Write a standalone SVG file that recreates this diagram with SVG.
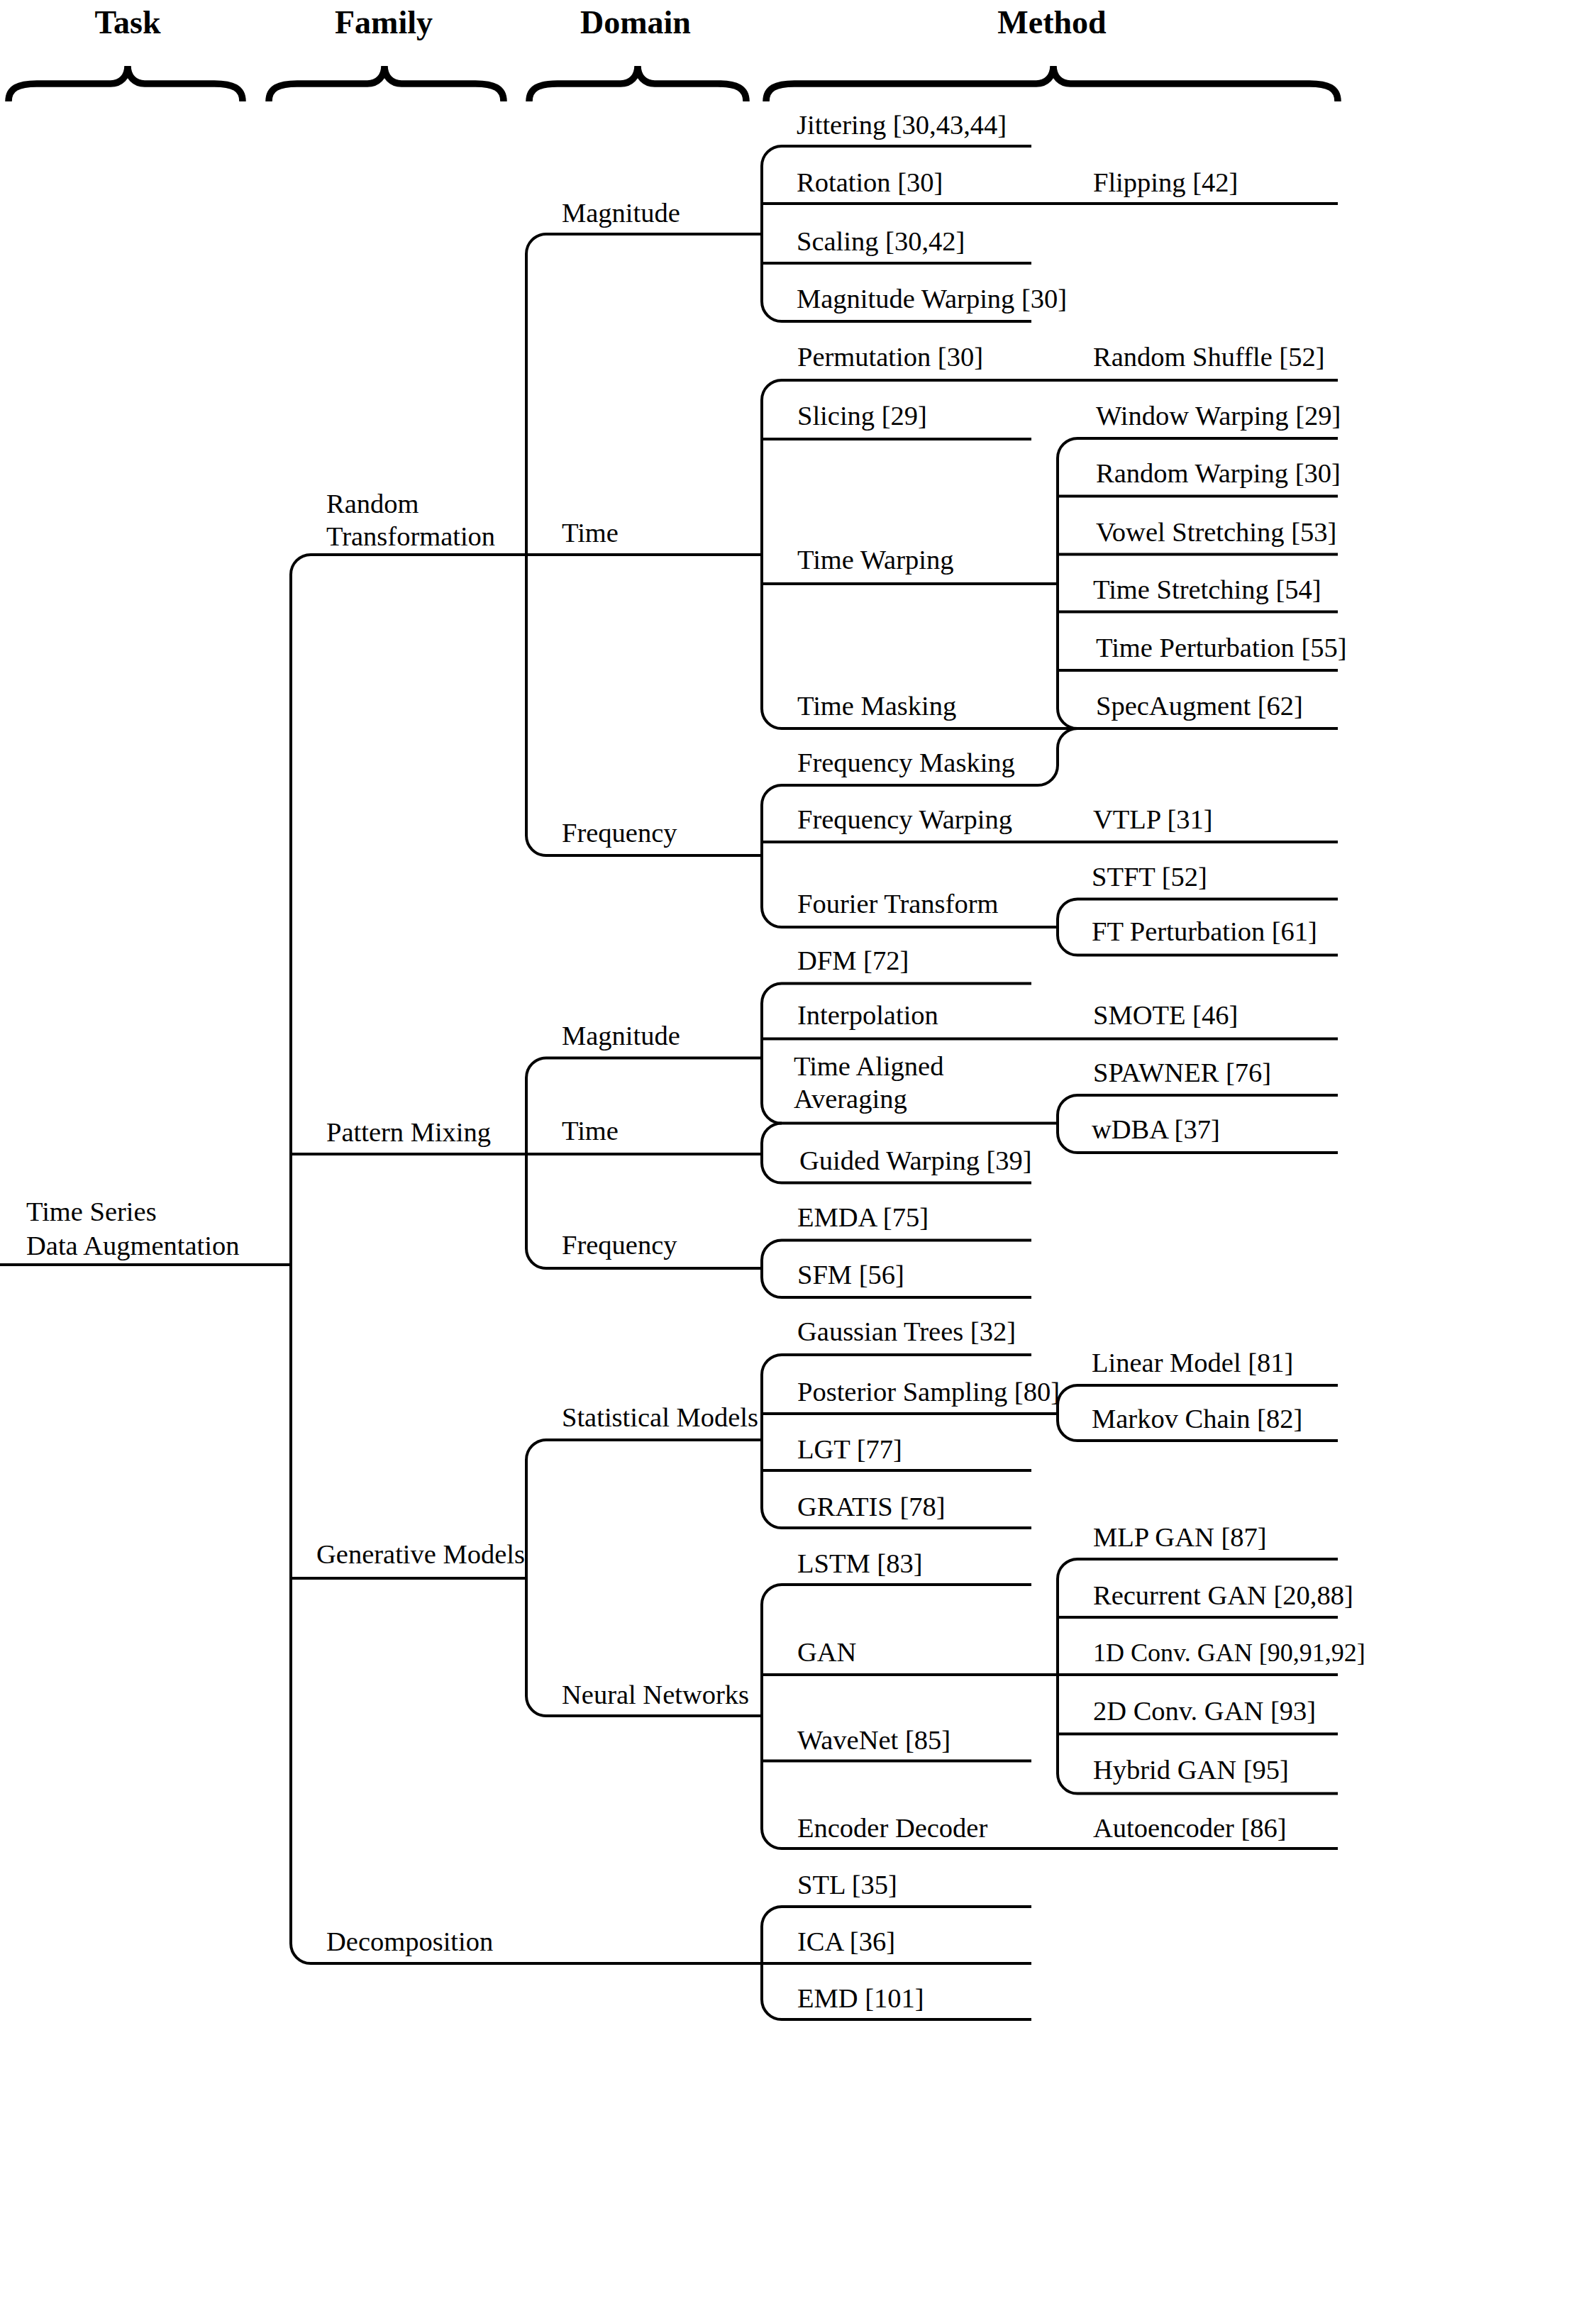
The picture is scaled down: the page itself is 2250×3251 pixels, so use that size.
<svg xmlns="http://www.w3.org/2000/svg" width="2250" height="3251" viewBox="0 0 2250 3251">
<style>
text{font-family:"Liberation Serif","Times New Roman",serif;font-size:38.5px;fill:#000}
.t{font-weight:bold;font-size:46px;text-anchor:middle}
.sm{font-size:36px}
.c path,.c line{fill:none;stroke:#000;stroke-width:4}
.b path{fill:none;stroke:#000;stroke-width:9.5}
</style>
<rect width="2250" height="3251" fill="#fff"/>
<g id="headers">
<text class="t" x="180" y="47">Task</text>
<text class="t" x="541" y="47">Family</text>
<text class="t" x="896" y="47">Domain</text>
<text class="t" x="1483" y="47">Method</text>
</g>
<g class="b" id="braces">
<path d="M12,143 C12,124 26,118 52,118 L156,118 C170,118 180,108 180,93 C180,108 190,118 204,118 L302,118 C328,118 342,124 342,143"/>
<path d="M379,143 C379,124 393,118 419,118 L518,118 C532,118 542,108 542,93 C542,108 552,118 566,118 L670,118 C696,118 710,124 710,143"/>
<path d="M746,143 C746,124 760,118 786,118 L875,118 C889,118 899,108 899,93 C899,108 909,118 923,118 L1012,118 C1038,118 1052,124 1052,143"/>
<path d="M1080,143 C1080,124 1094,118 1120,118 L1461,118 C1475,118 1485,108 1485,93 C1485,108 1495,118 1509,118 L1846,118 C1872,118 1886,124 1886,143"/>
</g>
<g class="c" id="connectors">
<line x1="0" y1="1783" x2="410" y2="1783"/>
<path d="M1074,782 L438,782 A28,28 0 0 0 410,810 L410,2740 A28,28 0 0 0 438,2768 L1074,2768"/>
<line x1="410" y1="1627" x2="1074" y2="1627"/>
<line x1="410" y1="2225" x2="742" y2="2225"/>
<path d="M1074,330 L770,330 A28,28 0 0 0 742,358 L742,1178 A28,28 0 0 0 770,1206 L1074,1206"/>
<path d="M1074,1491.5 L770,1491.5 A28,28 0 0 0 742,1519.5 L742,1760 A28,28 0 0 0 770,1788 L1074,1788"/>
<path d="M1074,2030 L770,2030 A28,28 0 0 0 742,2058 L742,2391 A28,28 0 0 0 770,2419 L1074,2419"/>
<path d="M1454,206 L1102,206 A28,28 0 0 0 1074,234 L1074,425 A28,28 0 0 0 1102,453 L1454,453"/>
<line x1="1074" y1="287" x2="1886" y2="287"/>
<line x1="1074" y1="371" x2="1454" y2="371"/>
<path d="M1886,536 L1102,536 A28,28 0 0 0 1074,564 L1074,999 A28,28 0 0 0 1102,1027 L1886,1027"/>
<line x1="1074" y1="619" x2="1454" y2="619"/>
<line x1="1074" y1="823" x2="1491" y2="823"/>
<path d="M1886,618 L1519,618 A28,28 0 0 0 1491,646 L1491,999 A28,28 0 0 0 1519,1027"/>
<line x1="1491" y1="699.5" x2="1886" y2="699.5"/>
<line x1="1491" y1="781.5" x2="1886" y2="781.5"/>
<line x1="1491" y1="862.5" x2="1886" y2="862.5"/>
<line x1="1491" y1="945" x2="1886" y2="945"/>
<path d="M1519,1027 A28,28 0 0 0 1491,1055 L1491,1079 A28,28 0 0 1 1463,1107 L1102,1107 A28,28 0 0 0 1074,1135 L1074,1279 A28,28 0 0 0 1102,1307 L1491,1307"/>
<line x1="1074" y1="1187" x2="1886" y2="1187"/>
<path d="M1886,1267.5 L1519,1267.5 A28,28 0 0 0 1491,1295.5 L1491,1318.5 A28,28 0 0 0 1519,1346.5 L1886,1346.5"/>
<path d="M1454,1386.5 L1102,1386.5 A28,28 0 0 0 1074,1414.5 L1074,1555.5 A28,28 0 0 0 1102,1583.5 L1491,1583.5"/>
<line x1="1074" y1="1464.5" x2="1886" y2="1464.5"/>
<path d="M1102,1583.5 A28,28 0 0 0 1074,1611.5 L1074,1639.5 A28,28 0 0 0 1102,1667.5 L1454,1667.5"/>
<path d="M1886,1544 L1519,1544 A28,28 0 0 0 1491,1572 L1491,1597 A28,28 0 0 0 1519,1625 L1886,1625"/>
<path d="M1454,1748.5 L1102,1748.5 A28,28 0 0 0 1074,1776.5 L1074,1801 A28,28 0 0 0 1102,1829 L1454,1829"/>
<path d="M1454,1910 L1102,1910 A28,28 0 0 0 1074,1938 L1074,2126 A28,28 0 0 0 1102,2154 L1454,2154"/>
<line x1="1074" y1="1993" x2="1491" y2="1993"/>
<line x1="1074" y1="2073" x2="1454" y2="2073"/>
<path d="M1886,1953 L1519,1953 A28,28 0 0 0 1491,1981 L1491,2003 A28,28 0 0 0 1519,2031 L1886,2031"/>
<path d="M1454,2234 L1102,2234 A28,28 0 0 0 1074,2262 L1074,2578 A28,28 0 0 0 1102,2606 L1886,2606"/>
<line x1="1074" y1="2361" x2="1886" y2="2361"/>
<line x1="1074" y1="2482.5" x2="1454" y2="2482.5"/>
<path d="M1886,2198 L1519,2198 A28,28 0 0 0 1491,2226 L1491,2500.5 A28,28 0 0 0 1519,2528.5 L1886,2528.5"/>
<line x1="1491" y1="2280" x2="1886" y2="2280"/>
<line x1="1491" y1="2444.5" x2="1886" y2="2444.5"/>
<path d="M1454,2688 L1102,2688 A28,28 0 0 0 1074,2716 L1074,2819 A28,28 0 0 0 1102,2847 L1454,2847"/>
<line x1="1074" y1="2768" x2="1454" y2="2768"/>
</g>
<g id="task"><text x="37" y="1721">Time Series</text><text x="37" y="1769">Data Augmentation</text></g>
<g id="family">
<text x="460" y="723">Random</text><text x="460" y="769">Transformation</text>
<text x="460" y="1609">Pattern Mixing</text>
<text x="446" y="2204">Generative Models</text>
<text x="460" y="2750">Decomposition</text>
</g>
<g id="domain">
<text x="792" y="313">Magnitude</text>
<text x="792" y="764">Time</text>
<text x="792" y="1187">Frequency</text>
<text x="792" y="1473">Magnitude</text>
<text x="792" y="1607">Time</text>
<text x="792" y="1768">Frequency</text>
<text x="792" y="2011">Statistical Models</text>
<text x="792" y="2402">Neural Networks</text>
</g>
<g id="method">
<text x="1123" y="189">Jittering [30,43,44]</text>
<text x="1123" y="270">Rotation [30]</text>
<text x="1123" y="353">Scaling [30,42]</text>
<text x="1123" y="434">Magnitude Warping [30]</text>
<text x="1124" y="516">Permutation [30]</text>
<text x="1124" y="599">Slicing [29]</text>
<text x="1124" y="802">Time Warping</text>
<text x="1124" y="1008">Time Masking</text>
<text x="1124" y="1088">Frequency Masking</text>
<text x="1124" y="1168">Frequency Warping</text>
<text x="1124" y="1287">Fourier Transform</text>
<text x="1124" y="1367">DFM [72]</text>
<text x="1124" y="1444">Interpolation</text>
<text x="1119" y="1516">Time Aligned</text>
<text x="1119" y="1562">Averaging</text>
<text x="1127" y="1649">Guided Warping [39]</text>
<text x="1124" y="1729">EMDA [75]</text>
<text x="1124" y="1810">SFM [56]</text>
<text x="1124" y="1890">Gaussian Trees [32]</text>
<text x="1124" y="1975">Posterior Sampling [80]</text>
<text x="1124" y="2056">LGT [77]</text>
<text x="1124" y="2137">GRATIS [78]</text>
<text x="1124" y="2217">LSTM [83]</text>
<text x="1124" y="2342">GAN</text>
<text x="1124" y="2466">WaveNet [85]</text>
<text x="1124" y="2590">Encoder Decoder</text>
<text x="1124" y="2670">STL [35]</text>
<text x="1124" y="2750">ICA [36]</text>
<text x="1124" y="2830">EMD [101]</text>
</g>
<g id="submethod">
<text x="1541" y="270">Flipping [42]</text>
<text x="1541" y="516">Random Shuffle [52]</text>
<text x="1545" y="599">Window Warping [29]</text>
<text x="1545" y="680">Random Warping [30]</text>
<text x="1545" y="763">Vowel Stretching [53]</text>
<text x="1541" y="844">Time Stretching [54]</text>
<text x="1545" y="926">Time Perturbation [55]</text>
<text x="1545" y="1008">SpecAugment [62]</text>
<text x="1541" y="1168">VTLP [31]</text>
<text x="1539" y="1249">STFT [52]</text>
<text x="1539" y="1326">FT Perturbation [61]</text>
<text x="1541" y="1444">SMOTE [46]</text>
<text x="1541" y="1525">SPAWNER [76]</text>
<text x="1539" y="1605">wDBA [37]</text>
<text x="1539" y="1934">Linear Model [81]</text>
<text x="1539" y="2013">Markov Chain [82]</text>
<text x="1541" y="2180">MLP GAN [87]</text>
<text x="1541" y="2262">Recurrent GAN [20,88]</text>
<text class="sm" x="1541" y="2342">1D Conv. GAN [90,91,92]</text>
<text x="1541" y="2425">2D Conv. GAN [93]</text>
<text x="1541" y="2508">Hybrid GAN [95]</text>
<text x="1541" y="2590">Autoencoder [86]</text>
</g>
</svg>
